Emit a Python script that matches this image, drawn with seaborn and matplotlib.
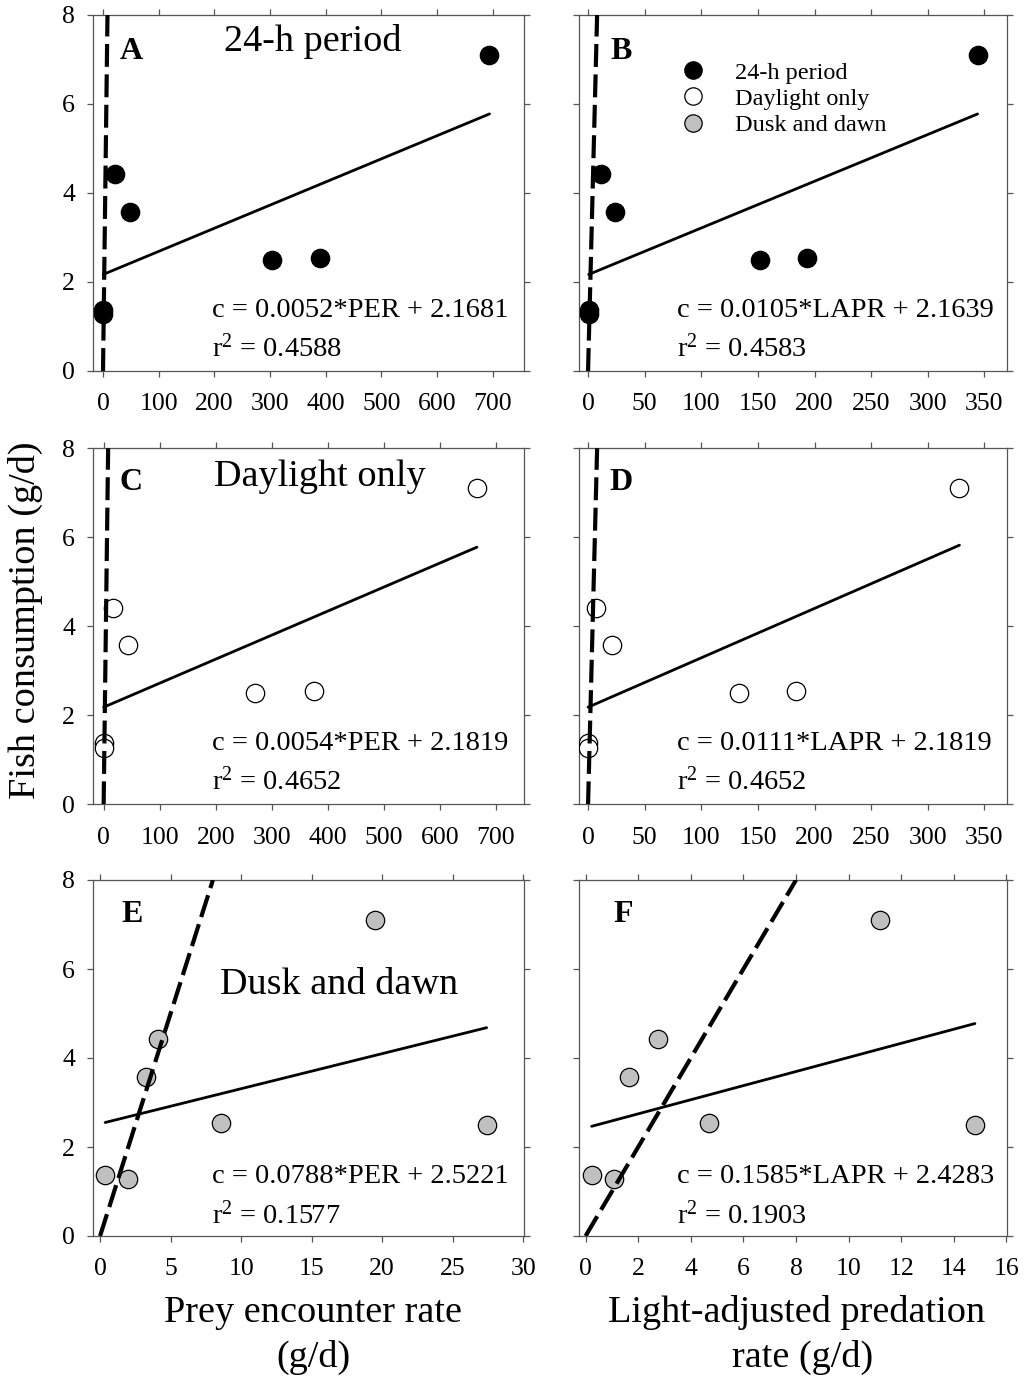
import numpy as np
import pandas as pd
import matplotlib
matplotlib.use("Agg")
import matplotlib.pyplot as plt
import seaborn as sns
from matplotlib.lines import Line2D

# ---------------- data ----------------
consumption = [1.37, 1.27, 4.42, 3.58, 2.50, 2.55, 7.11]

per_24h = [0.7, 0.7, 21, 48, 304, 390, 694]
lapr_24h = [0.5, 0.5, 11, 23.5, 152, 193, 344]
per_day = [0, 0, 16, 43, 270, 376, 666]
lapr_day = [0, 0, 7.4, 21, 133, 184, 328]
per_dusk = [0.36, 2.0, 4.08, 3.25, 27.4, 8.55, 19.5]
lapr_dusk = [0.23, 1.08, 2.76, 1.65, 14.8, 4.69, 11.19]

slopes = [0.0052, 0.0105, 0.0054, 0.0111, 0.0788, 0.1585]
intercepts = [2.1681, 2.1639, 2.1819, 2.1819, 2.5221, 2.4283]
r_squared = ["0.4588", "0.4583", "0.4652", "0.4652", "0.1577", "0.1903"]
predictors = ["PER", "LAPR", "PER", "LAPR", "PER", "LAPR"]
panel_letters = ["A", "B", "C", "D", "E", "F"]
group_names = ["24-h period", "Daylight only", "Dusk and dawn"]
one_to_one = [0, 8]

x_ticks_per = [0, 100, 200, 300, 400, 500, 600, 700]
x_ticks_lapr = [0, 50, 100, 150, 200, 250, 300, 350]
x_ticks_per_dusk = [0, 5, 10, 15, 20, 25, 30]
x_ticks_lapr_dusk = [0, 2, 4, 6, 8, 10, 12, 14, 16]
y_ticks = [0, 2, 4, 6, 8]

# ---------------- style ----------------
sns.set_style("ticks")
plt.rcParams["font.family"] = ["Liberation Serif", "DejaVu Serif"]
plt.rcParams["mathtext.fontset"] = "custom"
plt.rcParams["mathtext.rm"] = "Liberation Serif"
plt.rcParams["mathtext.it"] = "Liberation Serif:italic"
for k in ["text.color", "axes.labelcolor", "xtick.labelcolor", "ytick.labelcolor"]:
    plt.rcParams[k] = "black"

W, H = 1025, 1378
fig = plt.figure(figsize=(W / 100, H / 100), dpi=100)

face_colors = ["black", "white", "#c0c0c0"]

left_cols = [93, 579]
widths = [431, 428]
tops = [15, 448.3, 880]
ax_h = 356

panels = [
    (per_24h, 0, x_ticks_per, (-18, 756)),
    (lapr_24h, 0, x_ticks_lapr, (-8, 370)),
    (per_day, 1, x_ticks_per, (-19, 750)),
    (lapr_day, 1, x_ticks_lapr, (-8, 370)),
    (per_dusk, 2, x_ticks_per_dusk, (-0.5, 30.05)),
    (lapr_dusk, 2, x_ticks_lapr_dusk, (-0.25, 16.02)),
]

title_pos = {0: (0.511, 0.925), 2: (0.527, 0.92), 4: (0.571, 0.705)}
letter_pos = [(0.063, 0.897), (0.074, 0.897), (0.061, 0.905), (0.072, 0.905), (0.065, 0.902), (0.08, 0.902)]

for i, (xs, grp, xt, xl) in enumerate(panels):
    row, col = divmod(i, 2)
    l = left_cols[col] / W
    b = 1 - (tops[row] + ax_h) / H
    ax = fig.add_axes([l, b, widths[col] / W, ax_h / H])

    df = pd.DataFrame({"x": xs, "y": consumption})
    # regression line
    xr = np.array([min(xs), max(xs)])
    fit = pd.DataFrame({"x": xr, "y": slopes[i] * xr + intercepts[i]})
    sns.lineplot(data=fit, x="x", y="y", ax=ax, color="black", lw=2.0, zorder=2)
    # points
    sns.scatterplot(data=df, x="x", y="y", ax=ax, s=175, color=face_colors[grp],
                    edgecolor="black", linewidth=0.9, zorder=3, legend=False)
    # 1:1 line
    ax.plot(one_to_one, one_to_one, color="black", lw=3.0,
            linestyle=(0, (5.5, 1.8)), zorder=4, solid_capstyle="butt")

    ax.set_xlim(*xl)
    ax.set_ylim(0, 8)
    ax.set_xticks(xt)
    ax.set_yticks(y_ticks)
    ax.set_xlabel("")
    ax.set_ylabel("")
    for sp in ax.spines.values():
        sp.set_visible(True)
        sp.set_color("#555555")
        sp.set_linewidth(0.9)
    ax.tick_params(axis="both", which="both", direction="out", length=4, width=0.9,
                   color="#555555", labelcolor="black", top=True, right=True,
                   labeltop=False, labelright=False, labelsize=18.5)
    ax.tick_params(axis="x", pad=12)
    ax.tick_params(axis="y", pad=9)
    if col == 1:
        ax.tick_params(axis="y", labelleft=False)

    ax.text(letter_pos[i][0], letter_pos[i][1], panel_letters[i], transform=ax.transAxes,
            fontsize=23, fontweight="bold", ha="left", va="center", color="black")
    if i in title_pos:
        ax.text(title_pos[i][0], title_pos[i][1], group_names[grp], transform=ax.transAxes,
                fontsize=27.5, ha="center", va="center", color="black")
    ex = 0.275 if col == 0 else 0.23
    ax.text(ex, 0.171 if row < 2 else 0.167,
            f"c = {slopes[i]:.4f}*{predictors[i]} + {intercepts[i]:.4f}",
            transform=ax.transAxes, fontsize=20.5, ha="left", va="center", color="black")
    ax.text(ex, 0.064 if row < 2 else 0.059, f"r$^{{2}}$ = {r_squared[i]}",
            transform=ax.transAxes, fontsize=20.5, ha="left", va="center", color="black")

    if i == 1:
        handles = [Line2D([], [], marker="o", linestyle="none", markersize=12.5,
                          markerfacecolor=fc, markeredgecolor="black", markeredgewidth=0.9)
                   for fc in face_colors]
        leg = ax.legend(handles, group_names, loc="upper left", bbox_to_anchor=(0.2, 0.896),
                        frameon=False, fontsize=17.5, handletextpad=1.0, labelspacing=0.17,
                        borderaxespad=0, handlelength=1.5)
        for t in leg.get_texts():
            t.set_color("black")

fig.text(25 / W, 1 - 620 / H, "Fish consumption (g/d)", rotation=90, fontsize=27.5,
         ha="center", va="center", color="black")
fig.text(313 / W, 1 - 1313 / H, "Prey encounter rate", fontsize=27.5, ha="center", va="center", color="black")
fig.text(313 / W, 1 - 1357 / H, "(g/d)", fontsize=27.5, ha="center", va="center", color="black")
fig.text(797 / W, 1 - 1313 / H, "Light-adjusted predation", fontsize=27.5, ha="center", va="center", color="black")
fig.text(803 / W, 1 - 1357 / H, "rate (g/d)", fontsize=27.5, ha="center", va="center", color="black")

fig.savefig("out.png", dpi=100, facecolor="white")
